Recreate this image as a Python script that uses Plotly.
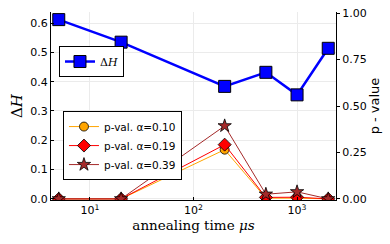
import plotly.graph_objects as go

times = [5, 20, 200, 500, 1000, 2000]
delta_h = [0.612, 0.535, 0.384, 0.432, 0.355, 0.514]
p_010 = [0.0, 0.0, 0.265, 0.004, 0.004, 0.0]
p_019 = [0.0, 0.0, 0.292, 0.008, 0.009, 0.0]
p_039 = [0.0, 0.0, 0.393, 0.025, 0.038, 0.0]
x_tickvals = [10, 100, 1000]
x_ticktext = ["10<sup>1</sup>", "10<sup>2</sup>", "10<sup>3</sup>"]
left_ticks = [0.0, 0.1, 0.2, 0.3, 0.4, 0.5, 0.6]
right_ticks = [0.0, 0.25, 0.5, 0.75, 1.0]

sans = "DejaVu Sans"
serif = "DejaVu Serif"

fig = go.Figure()
fig.add_trace(go.Scatter(
    x=times, y=delta_h, mode="lines+markers", name="Δ<i>H</i>",
    line=dict(color="#0000FF", width=2.5),
    marker=dict(symbol="square", size=12, color="#0000FF", line=dict(color="#000000", width=1)),
    legend="legend", yaxis="y"))
series = [
    (p_010, "p-val. α=0.10", "#FFA500", "circle", 9),
    (p_019, "p-val. α=0.19", "#FF0000", "diamond", 10),
    (p_039, "p-val. α=0.39", "#A52A2A", "star", 10),
]
for ys, name, col, sym, sz in series:
    fig.add_trace(go.Scatter(
        x=times, y=ys, mode="lines+markers", name=name,
        line=dict(color=col, width=1),
        marker=dict(symbol=sym, size=sz, color=col, line=dict(color="#000000", width=0.8)),
        legend="legend2", yaxis="y2"))

fig.update_layout(
    width=390, height=244,
    margin=dict(l=51, r=54, t=12, b=44, autoexpand=False),
    plot_bgcolor="white", paper_bgcolor="white",
    font=dict(family=sans, size=11, color="black"),
    xaxis=dict(type="log", range=[0.624, 3.376], tickvals=x_tickvals, ticktext=x_ticktext,
               showline=True, linecolor="black", linewidth=1, mirror=False, automargin=False,
               showgrid=True, gridcolor="#ebebeb", gridwidth=1, zeroline=False,
               ticks="inside", ticklen=3, tickcolor="black",
               title=dict(text="annealing time <i>μs</i>", font=dict(family=serif, size=13.5), standoff=2)),
    yaxis=dict(range=[-0.004, 0.638], tickvals=left_ticks, tickformat=".1f", automargin=False,
               showline=True, linecolor="black", linewidth=1,
               showgrid=True, gridcolor="#ebebeb", gridwidth=1, zeroline=False,
               ticks="inside", ticklen=3, tickcolor="black",
               title=dict(text="Δ<i>H</i>", font=dict(family=serif, size=15), standoff=4)),
    yaxis2=dict(range=[-0.006, 1.006], tickvals=right_ticks, tickformat=".2f", automargin=False,
                overlaying="y", side="right", showline=True, linecolor="black", linewidth=1,
                showgrid=False, zeroline=False, ticks="outside", ticklen=3, tickcolor="black",
                title=dict(text="p - value", font=dict(family=sans, size=13), standoff=4)),
    legend=dict(x=0.028, y=0.819, xanchor="left", yanchor="top",
                bgcolor="white", bordercolor="black", borderwidth=1,
                font=dict(family=serif, size=11), itemwidth=30,
                tracegroupgap=0),
    legend2=dict(x=0.042, y=0.473, xanchor="left", yanchor="top",
                 bgcolor="white", bordercolor="black", borderwidth=1,
                 font=dict(family=sans, size=10.5), itemwidth=30,
                 tracegroupgap=0),
    showlegend=True,
)
fig.write_html("out.html", config={"displayModeBar": False},
               post_script="document.body.style.margin='0px';document.body.style.overflow='hidden';")
